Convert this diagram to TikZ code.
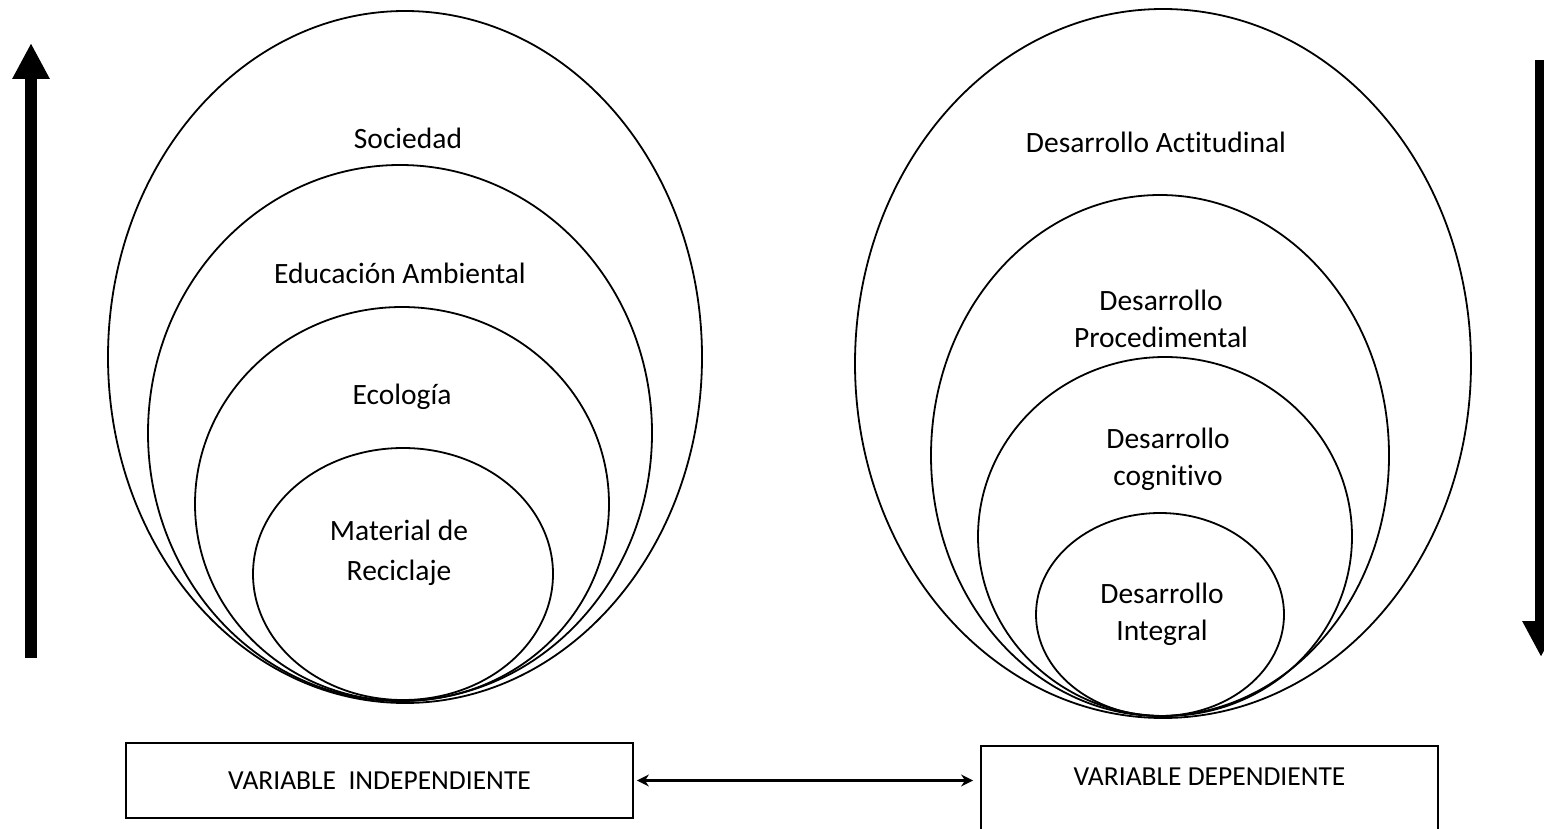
\documentclass[tikz,border=0pt]{standalone}
\usepackage{fontspec}
\setmainfont{Carlito}[Ligatures={NoCommon}]
\usetikzlibrary{arrows.meta}
\begin{document}
\begin{tikzpicture}[x=1pt,y=-1pt,
  ring/.style={draw, line width=1.8pt},
  lbl/.style={font=\fontsize{29.5}{37}\selectfont, anchor=base, inner sep=0pt},
  varbox/.style={draw, line width=1.8pt, font=\fontsize{27.5}{33}\selectfont, inner xsep=0pt, minimum width=#1},
  bigarrow/.style={line width=12pt, -{Triangle[width=35pt,length=36pt]}},
  dblarrow/.style={line width=2.4pt, {Stealth[length=12pt,width=12pt]}-{Stealth[length=12pt,width=12pt]}},
]
\clip (0,0) rectangle (1544,829);
\fill[white] (0,0) rectangle (1544,829);

% left nested ellipses
\draw[ring] (405,357) ellipse [x radius=297, y radius=346];
\draw[ring] (400,433) ellipse [x radius=252, y radius=268];
\draw[ring] (402,504) ellipse [x radius=207, y radius=197];
\draw[ring] (403,574) ellipse [x radius=150, y radius=126];

% right nested ellipses
\draw[ring] (1163,363.5) ellipse [x radius=308, y radius=354.5];
\draw[ring] (1160,455.5) ellipse [x radius=229, y radius=260.5];
\draw[ring] (1165,536.5) ellipse [x radius=187, y radius=179.5];
\draw[ring] (1160,614.5) ellipse [x radius=124, y radius=101.5];

% left labels
\node[lbl] (soc) at (408,149) {Sociedad};
\node[lbl] (edu) at (400,283) {Educación Ambiental};
\node[lbl] (eco) at (402,404) {Ecología};
\node[lbl] (mat1) at (399,540) {Material de};
\node[lbl] (mat2) at (399,580) {Reciclaje};

% right labels
\node[lbl] (act) at (1156,153) {Desarrollo Actitudinal};
\node[lbl] (pro1) at (1161,310) {Desarrollo};
\node[lbl] (pro2) at (1161,347) {Procedimental};
\node[lbl] (cog1) at (1168,448) {Desarrollo};
\node[lbl] (cog2) at (1168,485) {cognitivo};
\node[lbl] (int1) at (1162,603) {Desarrollo};
\node[lbl] (int2) at (1162,640) {Integral};

% boxes
\node[varbox=507pt, minimum height=75pt, inner ysep=0pt] (vi) at (379.5,780.5) {VARIABLE\ \ INDEPENDIENTE};
\node[varbox=457pt, text height=18pt, text depth=40pt, inner ysep=22pt, anchor=north] (vd) at (1209.5,745) {VARIABLE DEPENDIENTE};

\draw[dblarrow, shorten <=3pt, shorten >=7pt] (vi.east) -- (vi.east -| vd.west);

% big vertical arrows
\coordinate (la-s) at (31,658);
\coordinate (la-t) at (31,43);
\coordinate (ra-s) at (1541,60);
\coordinate (ra-t) at (1541,657);
\draw[bigarrow] (la-s) -- (la-t);
\draw[bigarrow] (ra-s) -- (ra-t);
\end{tikzpicture}
\end{document}
